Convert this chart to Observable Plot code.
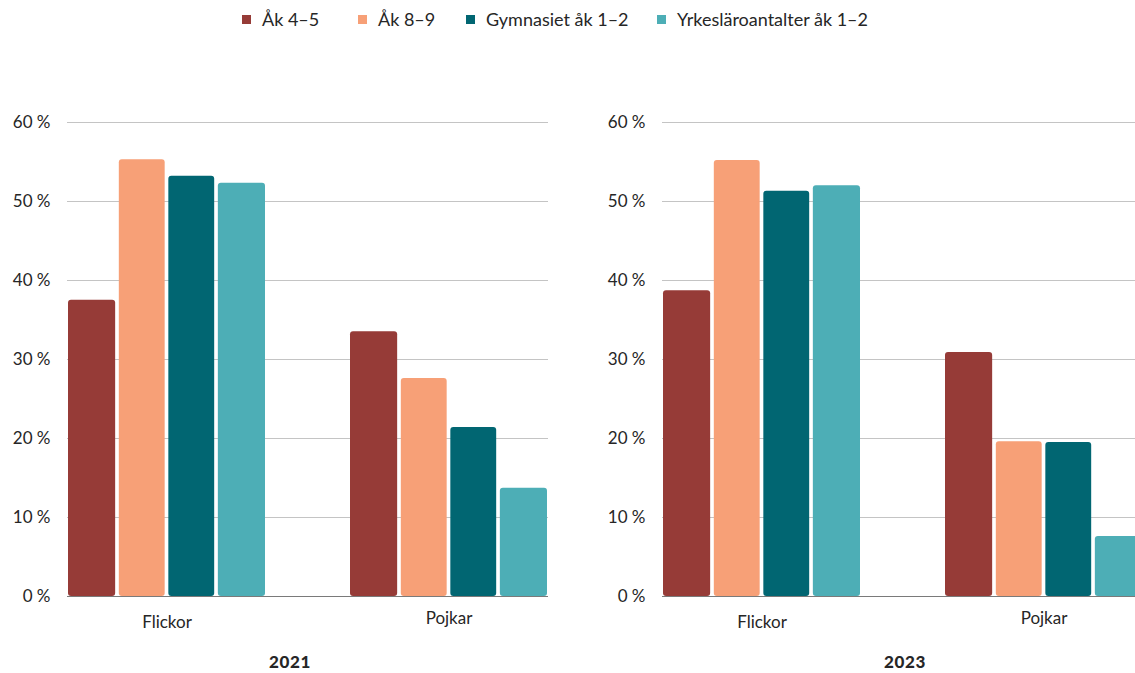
<!DOCTYPE html>
<html>
<head>
<meta charset="utf-8">
<script src="https://cdn.jsdelivr.net/npm/d3@7"></script>
<script src="https://cdn.jsdelivr.net/npm/@observablehq/plot@0.6"></script>
<style>
  html, body { margin: 0; padding: 0; background: #fff; overflow: hidden; }
  body { width: 1135px; height: 673px; position: relative; font-family: Lato, "Open Sans", sans-serif; color: #262626; }
  #legend { position: absolute; top: 8px; left: 0; width: 1135px; height: 26px; font-size: 18px; }
  .item { position: absolute; top: 0; display: flex; align-items: center; white-space: nowrap; }
  .sw { width: 9px; height: 9px; margin-right: 11px; display: inline-block; }
  .panel { position: absolute; top: 0; }
  .panel svg { max-width: none !important; }
  .title { position: absolute; top: 651px; font-weight: 900; font-size: 17px; letter-spacing: 0.6px; transform: translateX(-50%); }
</style>
</head>
<body>
<div id="legend"></div>
<div id="p1" class="panel" style="left:0px;width:560px"></div>
<div id="p2" class="panel" style="left:560px;width:583px"></div>
<div class="title" style="left:290px">2021</div>
<div class="title" style="left:905px">2023</div>
<script>
const series = ["Åk 4–5", "Åk 8–9", "Gymnasiet åk 1–2", "Yrkesläroantalter åk 1–2"];
const colors = ["#963b37", "#f7a077", "#016672", "#4daeb6"];
const groups = ["Flickor", "Pojkar"];
const years = ["2021", "2023"];
const flickor2021 = [37.5, 55.3, 53.2, 52.3];
const pojkar2021 = [33.5, 27.6, 21.4, 13.7];
const flickor2023 = [38.7, 55.2, 51.3, 52.0];
const pojkar2023 = [30.9, 19.6, 19.5, 7.6];
const yTicks = [0, 10, 20, 30, 40, 50, 60];

// legend (item left positions are layout)
const legendLeft = [242, 358, 466, 657];
const legend = document.getElementById("legend");
series.forEach((s, i) => {
  const it = document.createElement("div");
  it.className = "item";
  it.style.left = legendLeft[i] + "px";
  it.innerHTML = `<span class="sw" style="background:${colors[i]}"></span><span>${s}</span>`;
  legend.appendChild(it);
});

function rows(fl, pk) {
  const out = [];
  series.forEach((s, i) => out.push({group: "Flickor", series: s, value: fl[i]}));
  series.forEach((s, i) => out.push({group: "Pojkar", series: s, value: pk[i]}));
  return out;
}

function chart(data, opts) {
  const padInner = 0.3;
  const plotW = opts.width - opts.marginLeft - opts.marginRight;
  const step = plotW / (groups.length - padInner);
  const bw = step * (1 - padInner);
  const w = bw / series.length;
  const gap = 1.3;
  const barMarks = series.map((s, i) => Plot.barY(data.filter(d => d.series === s), {
    x: "group", y: "value", fill: colors[i], rx: 3,
    insetLeft: i * w + (i > 0 ? gap : 0),
    insetRight: (series.length - 1 - i) * w + (i < series.length - 1 ? gap : 0)
  }));
  return Plot.plot({
    width: opts.width,
    height: 640,
    marginTop: 122,
    marginBottom: 44,
    marginLeft: opts.marginLeft,
    marginRight: opts.marginRight,
    style: {fontFamily: "Lato, 'Open Sans', sans-serif", color: "#262626", background: "transparent"},
    x: {domain: groups, paddingInner: padInner, paddingOuter: 0, label: null},
    y: {domain: [0, 60], label: null},
    marks: [
      Plot.ruleY(yTicks.filter(d => d > 0), {stroke: "#c4c4c4", strokeWidth: 1}),
      ...barMarks,
      Plot.ruleY([0], {stroke: "#7a7a7a", strokeWidth: 1.2}),
      Plot.axisY({ticks: yTicks, tickSize: 0, tickPadding: 17, fontSize: 17, tickFormat: d => d + " %", label: null}),
      Plot.axisX({ticks: ["Flickor"], tickSize: 0, tickPadding: 19, fontSize: 17, label: null}),
      Plot.axisX({ticks: ["Pojkar"], tickSize: 0, tickPadding: 15, fontSize: 17, label: null})
    ]
  });
}

document.getElementById("p1").appendChild(chart(rows(flickor2021, pojkar2021), {width: 560, marginLeft: 67, marginRight: 12}));
document.getElementById("p2").appendChild(chart(rows(flickor2023, pojkar2023), {width: 583, marginLeft: 102, marginRight: 0}));
</script>
</body>
</html>
